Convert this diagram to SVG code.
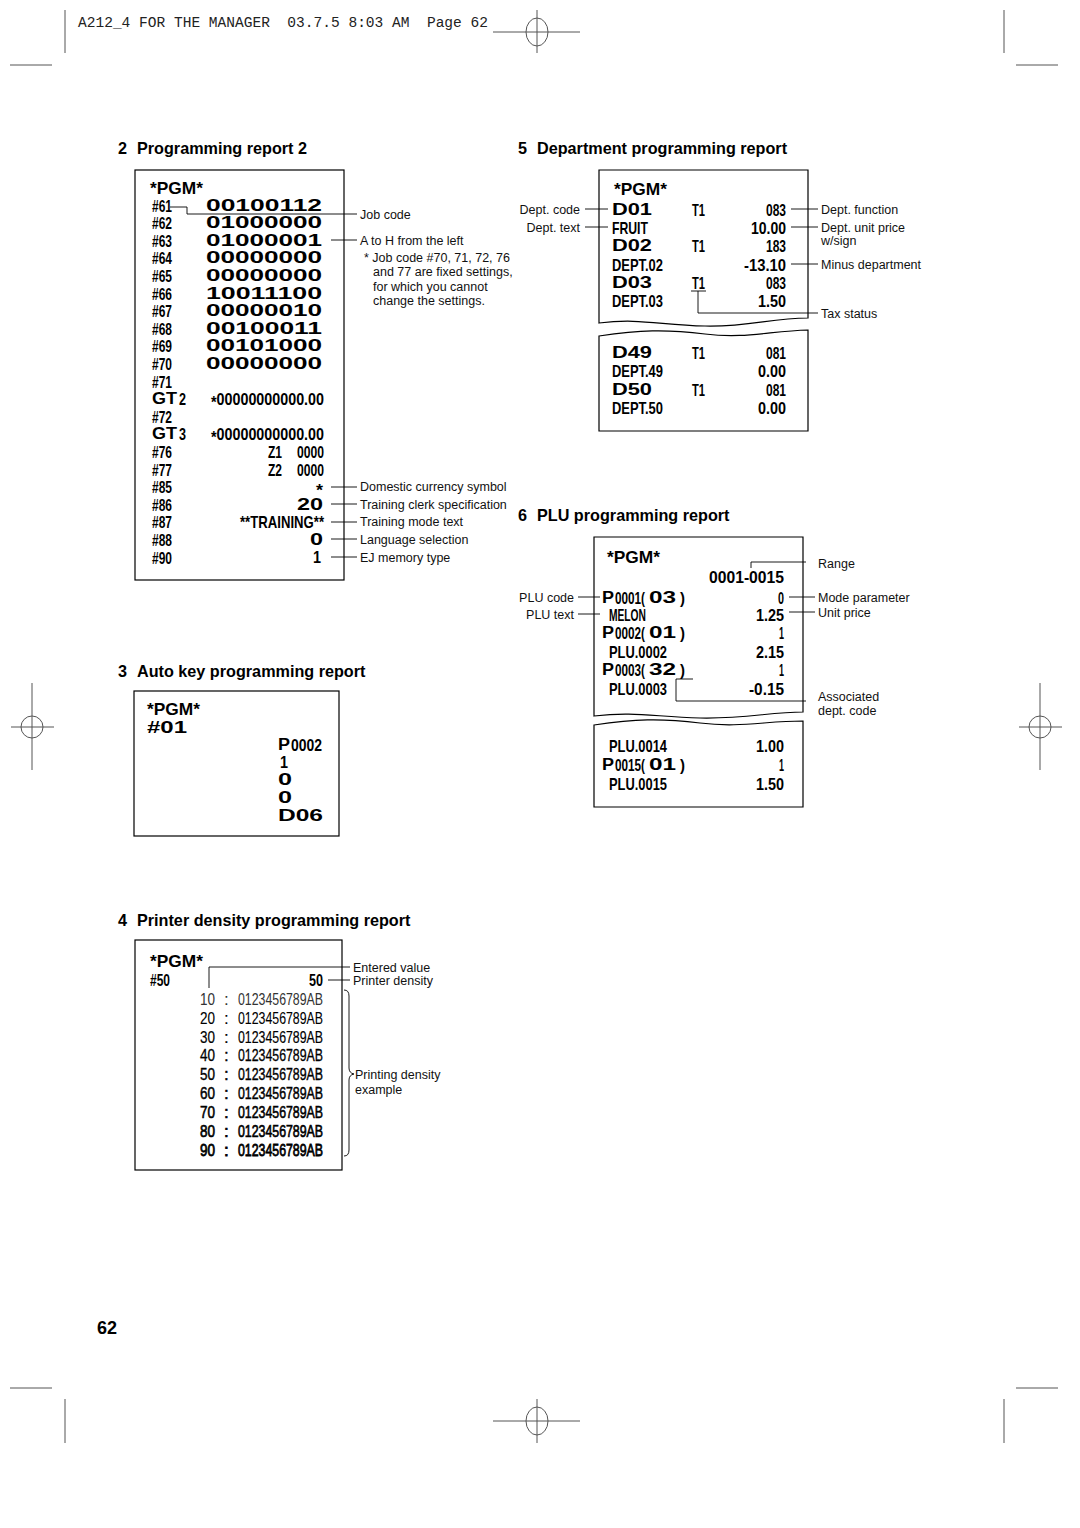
<svg xmlns="http://www.w3.org/2000/svg" width="1080" height="1528" viewBox="0 0 1080 1528">
<style>
.hd{font-family:"Liberation Sans",Arial,sans-serif;font-weight:bold;font-size:16.2px;fill:#000}
.an{font-family:"Liberation Sans",Arial,sans-serif;font-size:12.5px;fill:#111}
.w{font-family:"Liberation Sans",Arial,sans-serif;font-weight:bold;font-size:16px;fill:#000}
.pgm{font-family:"Liberation Sans",Arial,sans-serif;font-weight:bold;font-size:16.5px;fill:#000}
.n{font-family:"Liberation Sans",Arial,sans-serif;font-weight:bold;font-size:17px;fill:#000}
.d{font-family:"Liberation Sans",Arial,sans-serif;font-size:17px;fill:#000;stroke:#000}
.hdr{font-family:"Liberation Mono","Courier New",monospace;font-size:14px;fill:#222}
.box{fill:#fff;stroke:#000;stroke-width:1.2}
.ln{fill:none;stroke:#000;stroke-width:0.9}
.crop{fill:none;stroke:#555;stroke-width:1}
</style>

<g id="cropmarks">
<text class="hdr" x="78" y="27" textLength="410" lengthAdjust="spacingAndGlyphs" xml:space="preserve">A212_4 FOR THE MANAGER  03.7.5 8:03 AM  Page 62</text>
<path class="crop" d="M65,10V53M10,65H52M1004,10V53M1016,65H1058M493,32H580M537,10V53"/>
<ellipse class="crop" cx="537" cy="32" rx="11" ry="14"/>
<path class="crop" d="M32,683V770M11,727H54M1040,683V770M1019,727H1062"/>
<circle class="crop" cx="32" cy="727" r="11"/>
<circle class="crop" cx="1040" cy="727" r="11"/>
<path class="crop" d="M10,1388H52M1016,1388H1058M65,1399V1443M1004,1399V1443M493,1421H580M537,1399V1443"/>
<ellipse class="crop" cx="537" cy="1421" rx="11" ry="14"/>
<text class="n" transform="translate(97 1334) scale(.75 1)" textLength="26.67" lengthAdjust="spacingAndGlyphs" style="font-size:19px">62</text>
</g>

<g id="headings">
<text class="hd" x="118" y="154">2</text><text class="hd" x="137" y="154">Programming report 2</text>
<text class="hd" x="518" y="154">5</text><text class="hd" x="537" y="154">Department programming report</text>
<text class="hd" x="518" y="521">6</text><text class="hd" x="537" y="521">PLU programming report</text>
<text class="hd" x="118" y="677">3</text><text class="hd" x="137" y="677">Auto key programming report</text>
<text class="hd" x="118" y="926">4</text><text class="hd" x="137" y="926">Printer density programming report</text>
</g>

<g id="report2">
<rect class="box" x="135" y="170" width="209" height="410"/>
<text class="pgm" x="150" y="194" textLength="53" lengthAdjust="spacingAndGlyphs">*PGM*</text>
<g class="n">
<text transform="translate(152 211.5) scale(.75 1)" textLength="26.67" lengthAdjust="spacingAndGlyphs">#61</text>
<text transform="translate(152 229.1) scale(.75 1)" textLength="26.67" lengthAdjust="spacingAndGlyphs">#62</text>
<text transform="translate(152 246.7) scale(.75 1)" textLength="26.67" lengthAdjust="spacingAndGlyphs">#63</text>
<text transform="translate(152 264.3) scale(.75 1)" textLength="26.67" lengthAdjust="spacingAndGlyphs">#64</text>
<text transform="translate(152 281.9) scale(.75 1)" textLength="26.67" lengthAdjust="spacingAndGlyphs">#65</text>
<text transform="translate(152 299.5) scale(.75 1)" textLength="26.67" lengthAdjust="spacingAndGlyphs">#66</text>
<text transform="translate(152 317.1) scale(.75 1)" textLength="26.67" lengthAdjust="spacingAndGlyphs">#67</text>
<text transform="translate(152 334.7) scale(.75 1)" textLength="26.67" lengthAdjust="spacingAndGlyphs">#68</text>
<text transform="translate(152 352.3) scale(.75 1)" textLength="26.67" lengthAdjust="spacingAndGlyphs">#69</text>
<text transform="translate(152 369.9) scale(.75 1)" textLength="26.67" lengthAdjust="spacingAndGlyphs">#70</text>
<text transform="translate(152 387.5) scale(.75 1)" textLength="26.67" lengthAdjust="spacingAndGlyphs">#71</text>
<text transform="translate(179 405.1) scale(.75 1)" textLength="9.33" lengthAdjust="spacingAndGlyphs">2</text>
<text transform="translate(211 405.1) scale(.75 1)" textLength="150.67" lengthAdjust="spacingAndGlyphs"><tspan dy="3">*</tspan><tspan dy="-3">00000000000.00</tspan></text>
<text transform="translate(152 422.7) scale(.75 1)" textLength="26.67" lengthAdjust="spacingAndGlyphs">#72</text>
<text transform="translate(179 440.3) scale(.75 1)" textLength="9.33" lengthAdjust="spacingAndGlyphs">3</text>
<text transform="translate(211 440.3) scale(.75 1)" textLength="150.67" lengthAdjust="spacingAndGlyphs"><tspan dy="3">*</tspan><tspan dy="-3">00000000000.00</tspan></text>
<text transform="translate(152 457.9) scale(.75 1)" textLength="26.67" lengthAdjust="spacingAndGlyphs">#76</text>
<text transform="translate(268 457.9) scale(.75 1)" textLength="18.67" lengthAdjust="spacingAndGlyphs">Z1</text>
<text transform="translate(297 457.9) scale(.75 1)" textLength="36" lengthAdjust="spacingAndGlyphs">0000</text>
<text transform="translate(152 475.5) scale(.75 1)" textLength="26.67" lengthAdjust="spacingAndGlyphs">#77</text>
<text transform="translate(268 475.5) scale(.75 1)" textLength="18.67" lengthAdjust="spacingAndGlyphs">Z2</text>
<text transform="translate(297 475.5) scale(.75 1)" textLength="36" lengthAdjust="spacingAndGlyphs">0000</text>
<text transform="translate(152 493.1) scale(.75 1)" textLength="26.67" lengthAdjust="spacingAndGlyphs">#85</text>
<text transform="translate(316 496.1) scale(.75 1)" textLength="9.33" lengthAdjust="spacingAndGlyphs">*</text>
<text transform="translate(152 510.7) scale(.75 1)" textLength="26.67" lengthAdjust="spacingAndGlyphs">#86</text>
<text transform="translate(152 528.3) scale(.75 1)" textLength="26.67" lengthAdjust="spacingAndGlyphs">#87</text>
<text transform="translate(240 528.3) scale(.75 1)" textLength="112" lengthAdjust="spacingAndGlyphs">**TRAINING**</text>
<text transform="translate(152 545.9) scale(.75 1)" textLength="26.67" lengthAdjust="spacingAndGlyphs">#88</text>
<text transform="translate(152 563.5) scale(.75 1)" textLength="26.67" lengthAdjust="spacingAndGlyphs">#90</text>
</g>
<g class="w">
<text x="206" y="210.5" textLength="116" lengthAdjust="spacingAndGlyphs">00100112</text>
<text x="206" y="228.1" textLength="116" lengthAdjust="spacingAndGlyphs">01000000</text>
<text x="206" y="245.7" textLength="116" lengthAdjust="spacingAndGlyphs">01000001</text>
<text x="206" y="263.3" textLength="116" lengthAdjust="spacingAndGlyphs">00000000</text>
<text x="206" y="280.9" textLength="116" lengthAdjust="spacingAndGlyphs">00000000</text>
<text x="206" y="298.5" textLength="116" lengthAdjust="spacingAndGlyphs">10011100</text>
<text x="206" y="316.1" textLength="116" lengthAdjust="spacingAndGlyphs">00000010</text>
<text x="206" y="333.7" textLength="116" lengthAdjust="spacingAndGlyphs">00100011</text>
<text x="206" y="351.3" textLength="116" lengthAdjust="spacingAndGlyphs">00101000</text>
<text x="206" y="368.9" textLength="116" lengthAdjust="spacingAndGlyphs">00000000</text>
<text x="152" y="404.1" textLength="25" lengthAdjust="spacingAndGlyphs">GT</text>
<text x="152" y="439.3" textLength="25" lengthAdjust="spacingAndGlyphs">GT</text>
<text x="297" y="509.7" textLength="26" lengthAdjust="spacingAndGlyphs">20</text>
<text x="310" y="544.9" textLength="13" lengthAdjust="spacingAndGlyphs">0</text>
<text x="313" y="562.5" textLength="8" lengthAdjust="spacingAndGlyphs">1</text>
</g>
<g class="an">
<text x="360" y="218.5">Job code</text>
<text x="360" y="244.5">A to H from the left</text>
<text x="364" y="261.5">* Job code #70, 71, 72, 76</text>
<text x="373" y="276">and 77 are fixed settings,</text>
<text x="373" y="290.5">for which you cannot</text>
<text x="373" y="305">change the settings.</text>
<text x="360" y="491">Domestic currency symbol</text>
<text x="360" y="508.7">Training clerk specification</text>
<text x="360" y="526.3">Training mode text</text>
<text x="360" y="543.9">Language selection</text>
<text x="360" y="561.5">EJ memory type</text>
</g>
</g>

<g id="report5">
<path class="box" d="M599,170H808V318C770,318 750,327 705,326C660,325 640,318 599,323Z"/>
<path class="box" d="M599,336C640,330 665,329 705,334C745,339 770,331 808,330V431H599Z"/>
<text class="pgm" x="614" y="195" textLength="53" lengthAdjust="spacingAndGlyphs">*PGM*</text>
<g class="w">
<text x="612" y="214.5" textLength="40" lengthAdjust="spacingAndGlyphs">D01</text>
<text x="612" y="250.5" textLength="40" lengthAdjust="spacingAndGlyphs">D02</text>
<text x="612" y="287.5" textLength="40" lengthAdjust="spacingAndGlyphs">D03</text>
<text x="612" y="357.5" textLength="40" lengthAdjust="spacingAndGlyphs">D49</text>
<text x="612" y="394.5" textLength="40" lengthAdjust="spacingAndGlyphs">D50</text>
</g>
<g class="n">
<text transform="translate(692 215.5) scale(.75 1)" textLength="17.33" lengthAdjust="spacingAndGlyphs">T1</text>
<text transform="translate(766 215.5) scale(.75 1)" textLength="26.67" lengthAdjust="spacingAndGlyphs">083</text>
<text transform="translate(612 233.5) scale(.75 1)" textLength="48" lengthAdjust="spacingAndGlyphs">FRUIT</text>
<text transform="translate(751 233.5) scale(.75 1)" textLength="46.67" lengthAdjust="spacingAndGlyphs">10.00</text>
<text transform="translate(692 251.5) scale(.75 1)" textLength="17.33" lengthAdjust="spacingAndGlyphs">T1</text>
<text transform="translate(766 251.5) scale(.75 1)" textLength="26.67" lengthAdjust="spacingAndGlyphs">183</text>
<text transform="translate(612 270.5) scale(.75 1)" textLength="68" lengthAdjust="spacingAndGlyphs">DEPT.02</text>
<text transform="translate(744 270.5) scale(.75 1)" textLength="56" lengthAdjust="spacingAndGlyphs">-13.10</text>
<text transform="translate(692 288.5) scale(.75 1)" textLength="17.33" lengthAdjust="spacingAndGlyphs">T1</text>
<text transform="translate(766 288.5) scale(.75 1)" textLength="26.67" lengthAdjust="spacingAndGlyphs">083</text>
<text transform="translate(612 306.5) scale(.75 1)" textLength="68" lengthAdjust="spacingAndGlyphs">DEPT.03</text>
<text transform="translate(758 306.5) scale(.75 1)" textLength="37.33" lengthAdjust="spacingAndGlyphs">1.50</text>
<text transform="translate(692 358.5) scale(.75 1)" textLength="17.33" lengthAdjust="spacingAndGlyphs">T1</text>
<text transform="translate(766 358.5) scale(.75 1)" textLength="26.67" lengthAdjust="spacingAndGlyphs">081</text>
<text transform="translate(612 376.5) scale(.75 1)" textLength="68" lengthAdjust="spacingAndGlyphs">DEPT.49</text>
<text transform="translate(758 376.5) scale(.75 1)" textLength="37.33" lengthAdjust="spacingAndGlyphs">0.00</text>
<text transform="translate(692 395.5) scale(.75 1)" textLength="17.33" lengthAdjust="spacingAndGlyphs">T1</text>
<text transform="translate(766 395.5) scale(.75 1)" textLength="26.67" lengthAdjust="spacingAndGlyphs">081</text>
<text transform="translate(612 413.5) scale(.75 1)" textLength="68" lengthAdjust="spacingAndGlyphs">DEPT.50</text>
<text transform="translate(758 413.5) scale(.75 1)" textLength="37.33" lengthAdjust="spacingAndGlyphs">0.00</text>
</g>
<g class="an">
<text x="580" y="213.5" text-anchor="end">Dept. code</text>
<text x="580" y="231.5" text-anchor="end">Dept. text</text>
<text x="821" y="213.5">Dept. function</text>
<text x="821" y="231.5">Dept. unit price</text>
<text x="821" y="244.5">w/sign</text>
<text x="821" y="268.5">Minus department</text>
<text x="821" y="317.5">Tax status</text>
</g>
</g>

<g id="report6">
<path class="box" d="M594,537H803V712C770,712 745,719 700,718C655,717 635,711 594,716Z"/>
<path class="box" d="M594,725C635,719 660,718 700,723C740,728 765,721 803,721V807H594Z"/>
<text class="pgm" x="607" y="563" textLength="53" lengthAdjust="spacingAndGlyphs">*PGM*</text>
<g class="w">
<text x="602" y="602.5" textLength="12" lengthAdjust="spacingAndGlyphs">P</text>
<text x="649" y="602.5" textLength="27" lengthAdjust="spacingAndGlyphs">03</text>
<text x="602" y="637.5" textLength="12" lengthAdjust="spacingAndGlyphs">P</text>
<text x="649" y="637.5" textLength="27" lengthAdjust="spacingAndGlyphs">01</text>
<text x="602" y="674.5" textLength="12" lengthAdjust="spacingAndGlyphs">P</text>
<text x="649" y="674.5" textLength="27" lengthAdjust="spacingAndGlyphs">32</text>
<text x="602" y="769.5" textLength="12" lengthAdjust="spacingAndGlyphs">P</text>
<text x="649" y="769.5" textLength="27" lengthAdjust="spacingAndGlyphs">01</text>
</g>
<g class="n">
<text transform="translate(709 582.5) scale(.75 1)" textLength="100" lengthAdjust="spacingAndGlyphs">0001-0015</text>
<text transform="translate(615 603.5) scale(.75 1)" textLength="40" lengthAdjust="spacingAndGlyphs">0001(</text>
<text transform="translate(680 603.5) scale(.75 1)" textLength="6.67" lengthAdjust="spacingAndGlyphs">)</text>
<text transform="translate(778 603.5) scale(.75 1)" textLength="8" lengthAdjust="spacingAndGlyphs">0</text>
<text transform="translate(609 620.5) scale(.75 1)" textLength="49.33" lengthAdjust="spacingAndGlyphs">MELON</text>
<text transform="translate(756 620.5) scale(.75 1)" textLength="37.33" lengthAdjust="spacingAndGlyphs">1.25</text>
<text transform="translate(615 638.5) scale(.75 1)" textLength="40" lengthAdjust="spacingAndGlyphs">0002(</text>
<text transform="translate(680 638.5) scale(.75 1)" textLength="6.67" lengthAdjust="spacingAndGlyphs">)</text>
<text transform="translate(779 638.5) scale(.75 1)" textLength="6.67" lengthAdjust="spacingAndGlyphs">1</text>
<text transform="translate(609 657.5) scale(.75 1)" textLength="77.33" lengthAdjust="spacingAndGlyphs">PLU.0002</text>
<text transform="translate(756 657.5) scale(.75 1)" textLength="37.33" lengthAdjust="spacingAndGlyphs">2.15</text>
<text transform="translate(615 675.5) scale(.75 1)" textLength="40" lengthAdjust="spacingAndGlyphs">0003(</text>
<text transform="translate(680 675.5) scale(.75 1)" textLength="6.67" lengthAdjust="spacingAndGlyphs">)</text>
<text transform="translate(779 675.5) scale(.75 1)" textLength="6.67" lengthAdjust="spacingAndGlyphs">1</text>
<text transform="translate(609 694.5) scale(.75 1)" textLength="77.33" lengthAdjust="spacingAndGlyphs">PLU.0003</text>
<text transform="translate(749 694.5) scale(.75 1)" textLength="46.67" lengthAdjust="spacingAndGlyphs">-0.15</text>
<text transform="translate(609 751.5) scale(.75 1)" textLength="77.33" lengthAdjust="spacingAndGlyphs">PLU.0014</text>
<text transform="translate(756 751.5) scale(.75 1)" textLength="37.33" lengthAdjust="spacingAndGlyphs">1.00</text>
<text transform="translate(615 770.5) scale(.75 1)" textLength="40" lengthAdjust="spacingAndGlyphs">0015(</text>
<text transform="translate(680 770.5) scale(.75 1)" textLength="6.67" lengthAdjust="spacingAndGlyphs">)</text>
<text transform="translate(779 770.5) scale(.75 1)" textLength="6.67" lengthAdjust="spacingAndGlyphs">1</text>
<text transform="translate(609 789.5) scale(.75 1)" textLength="77.33" lengthAdjust="spacingAndGlyphs">PLU.0015</text>
<text transform="translate(756 789.5) scale(.75 1)" textLength="37.33" lengthAdjust="spacingAndGlyphs">1.50</text>
</g>
<g class="an">
<text x="574" y="601.5" text-anchor="end">PLU code</text>
<text x="574" y="618.5" text-anchor="end">PLU text</text>
<text x="818" y="567.5">Range</text>
<text x="818" y="601.5">Mode parameter</text>
<text x="818" y="616.5">Unit price</text>
<text x="818" y="700.5">Associated</text>
<text x="818" y="714.5">dept. code</text>
</g>
</g>

<g id="report3">
<rect class="box" x="134" y="691" width="205" height="145"/>
<text class="pgm" x="147" y="715" textLength="53" lengthAdjust="spacingAndGlyphs">*PGM*</text>
<g class="w">
<text x="147" y="732.5" textLength="40" lengthAdjust="spacingAndGlyphs">#01</text>
<text x="278" y="749.5" textLength="12" lengthAdjust="spacingAndGlyphs">P</text>
<text x="280" y="767.5" textLength="8" lengthAdjust="spacingAndGlyphs">1</text>
<text x="278" y="784.5" textLength="14" lengthAdjust="spacingAndGlyphs">0</text>
<text x="278" y="802.5" textLength="14" lengthAdjust="spacingAndGlyphs">0</text>
<text x="278" y="820.5" textLength="45" lengthAdjust="spacingAndGlyphs">D06</text>
</g>
<text class="n" transform="translate(291 750.5) scale(.75 1)" textLength="41.33" lengthAdjust="spacingAndGlyphs">0002</text>
</g>

<g id="report4">
<rect class="box" x="135" y="940" width="207" height="230"/>
<text class="pgm" x="150" y="967" textLength="53" lengthAdjust="spacingAndGlyphs">*PGM*</text>
<text class="n" transform="translate(150 985.5) scale(.75 1)" textLength="26.67" lengthAdjust="spacingAndGlyphs">#50</text>
<text class="n" transform="translate(309 985.5) scale(.75 1)" textLength="18.67" lengthAdjust="spacingAndGlyphs">50</text>
<g class="d">
<g stroke-width="0" fill="#333"><text transform="translate(200 1004.5) scale(.75 1)" textLength="20" lengthAdjust="spacingAndGlyphs">10</text><text x="224" y="1004.5">:</text><text transform="translate(238 1004.5) scale(.75 1)" textLength="113.33" lengthAdjust="spacingAndGlyphs">0123456789AB</text></g>
<g stroke-width="0.1"><text transform="translate(200 1023.5) scale(.75 1)" textLength="20" lengthAdjust="spacingAndGlyphs">20</text><text x="224" y="1023.5">:</text><text transform="translate(238 1023.5) scale(.75 1)" textLength="113.33" lengthAdjust="spacingAndGlyphs">0123456789AB</text></g>
<g stroke-width="0.2"><text transform="translate(200 1042.5) scale(.75 1)" textLength="20" lengthAdjust="spacingAndGlyphs">30</text><text x="224" y="1042.5">:</text><text transform="translate(238 1042.5) scale(.75 1)" textLength="113.33" lengthAdjust="spacingAndGlyphs">0123456789AB</text></g>
<g stroke-width="0.3"><text transform="translate(200 1061) scale(.75 1)" textLength="20" lengthAdjust="spacingAndGlyphs">40</text><text x="224" y="1061">:</text><text transform="translate(238 1061) scale(.75 1)" textLength="113.33" lengthAdjust="spacingAndGlyphs">0123456789AB</text></g>
<g stroke-width="0.4"><text transform="translate(200 1079.5) scale(.75 1)" textLength="20" lengthAdjust="spacingAndGlyphs">50</text><text x="224" y="1079.5">:</text><text transform="translate(238 1079.5) scale(.75 1)" textLength="113.33" lengthAdjust="spacingAndGlyphs">0123456789AB</text></g>
<g stroke-width="0.5"><text transform="translate(200 1098.5) scale(.75 1)" textLength="20" lengthAdjust="spacingAndGlyphs">60</text><text x="224" y="1098.5">:</text><text transform="translate(238 1098.5) scale(.75 1)" textLength="113.33" lengthAdjust="spacingAndGlyphs">0123456789AB</text></g>
<g stroke-width="0.6"><text transform="translate(200 1117.5) scale(.75 1)" textLength="20" lengthAdjust="spacingAndGlyphs">70</text><text x="224" y="1117.5">:</text><text transform="translate(238 1117.5) scale(.75 1)" textLength="113.33" lengthAdjust="spacingAndGlyphs">0123456789AB</text></g>
<g stroke-width="0.7"><text transform="translate(200 1136.5) scale(.75 1)" textLength="20" lengthAdjust="spacingAndGlyphs">80</text><text x="224" y="1136.5">:</text><text transform="translate(238 1136.5) scale(.75 1)" textLength="113.33" lengthAdjust="spacingAndGlyphs">0123456789AB</text></g>
<g stroke-width="0.8"><text transform="translate(200 1155.5) scale(.75 1)" textLength="20" lengthAdjust="spacingAndGlyphs">90</text><text x="224" y="1155.5">:</text><text transform="translate(238 1155.5) scale(.75 1)" textLength="113.33" lengthAdjust="spacingAndGlyphs">0123456789AB</text></g>
</g>
<g class="an">
<text x="353" y="971.5">Entered value</text>
<text x="353" y="985">Printer density</text>
<text x="355" y="1078.5">Printing density</text>
<text x="355" y="1093.5">example</text>
</g>
</g>

<g id="connectors" class="ln">
<path d="M170,207H187V214H357"/>
<path d="M331,240H357"/>
<path d="M331,487H357M331,504H357M331,522H357M331,539H357M331,557H357"/>
<path d="M585,209H608M585,227H608"/>
<path d="M791,209H818M791,227H818M791,264H818"/>
<path d="M691,291H706M698,291V313H818"/>
<path d="M578,597H600M578,614H600"/>
<path d="M789,597H815M789,612H815"/>
<path d="M751,568V562H806"/>
<path d="M676,679H693M676,679V701H806"/>
<path d="M209,988V967H350"/>
<path d="M328,980H350"/>
<path d="M344,990Q349,990 349,996V1068Q349,1073 354,1074Q349,1075 349,1080V1150Q349,1156 344,1156"/>
</g>
</svg>
